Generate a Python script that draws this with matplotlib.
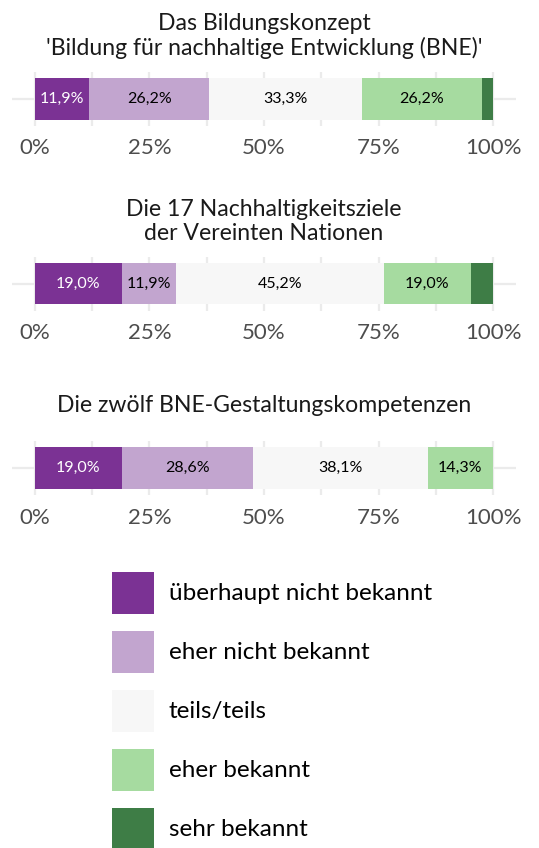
import matplotlib
matplotlib.use("Agg")
import matplotlib.pyplot as plt
from matplotlib.patches import Patch

plt.rcParams["font.family"] = ["Lato", "DejaVu Sans"]

titles = [
    "Das Bildungskonzept\n'Bildung für nachhaltige Entwicklung (BNE)'",
    "Die 17 Nachhaltigkeitsziele\nder Vereinten Nationen",
    "Die zwölf BNE-Gestaltungskompetenzen",
]
categories = [
    "überhaupt nicht bekannt",
    "eher nicht bekannt",
    "teils/teils",
    "eher bekannt",
    "sehr bekannt",
]
values = [
    [11.9, 26.2, 33.3, 26.2, 2.4],
    [19.0, 11.9, 45.2, 19.0, 4.8],
    [19.0, 28.6, 38.1, 14.3, 0.0],
]
colors = ["#7b3294", "#c2a5cf", "#f7f7f7", "#a6dba0", "#3e7d46"]
label_colors = ["white", "black", "black", "black", "white"]
tick_vals = [0, 25, 50, 75, 100]
tick_labels = ["0%", "25%", "50%", "75%", "100%"]

W, H = 539, 848
fig = plt.figure(figsize=(W / 100, H / 100), dpi=100)

centers = [99, 283.5, 468]
title_y = [36, 221.5, 405]
ax_h = 54
grid_c = "#ebebeb"

for i, vals in enumerate(values):
    cy = centers[i]
    ax = fig.add_axes([12 / W, (H - cy - ax_h / 2) / H, 504 / W, ax_h / H])
    ax.set_xlim(-5, 105)
    ax.set_ylim(-0.5, 0.5)
    ax.set_xticks(tick_vals)
    ax.set_xticklabels(tick_labels)
    ax.set_xticks([12.5, 37.5, 62.5, 87.5], minor=True)
    ax.set_yticks([0])
    ax.set_yticklabels([])
    ax.tick_params(axis="both", which="both", length=0)
    ax.tick_params(axis="x", labelsize=16, labelcolor="#4d4d4d", pad=9)
    ax.grid(True, which="both", axis="x", color=grid_c, linewidth=1.6)
    ax.grid(True, axis="y", color=grid_c, linewidth=1.6)
    ax.set_axisbelow(True)
    for s in ax.spines.values():
        s.set_visible(False)

    left = 0.0
    for v, c, lc in zip(vals, colors, label_colors):
        ax.barh(0, v, left=left, height=0.76, color=c, edgecolor="none")
        if v > 5:
            ax.text(left + v / 2, 0, f"{v:.1f}%".replace(".", ","),
                    ha="center", va="center", fontsize=11.5, color=lc)
        left += v

    fig.text(264 / W, 1 - title_y[i] / H, titles[i], ha="center", va="center",
             fontsize=16.6, color="#1a1a1a", linespacing=1.17)

handles = [Patch(facecolor=c, edgecolor="none") for c in colors]
fs = 17.5
fpx = fs * 100 / 72
box_pt = 42 * 72 / 100
hh = (box_pt / fs - 0.245) / 0.65
fig.legend(handles, categories, loc="upper left",
           bbox_to_anchor=(111.7 / W, 1 - 571.7 / H), frameon=False,
           fontsize=fs, borderpad=0, borderaxespad=0,
           handlelength=42 / fpx, handleheight=hh,
           handletextpad=15 / fpx, labelspacing=17 / fpx)

fig.savefig("out.png", dpi=100)
